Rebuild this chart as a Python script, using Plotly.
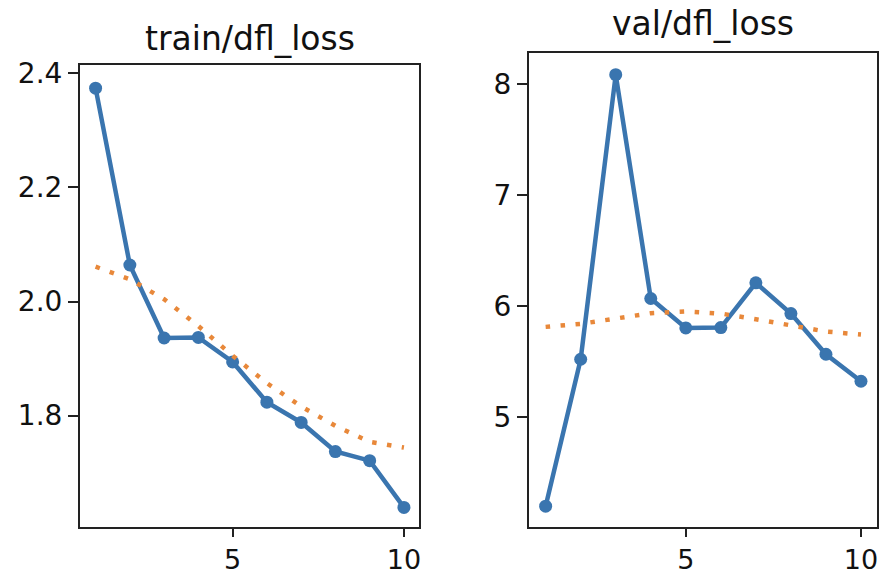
import plotly.graph_objects as go

epochs = [1, 2, 3, 4, 5, 6, 7, 8, 9, 10]
train_dfl = [2.374, 2.064, 1.936, 1.937, 1.894, 1.8235, 1.788, 1.737, 1.721, 1.639]
train_smooth = [2.061, 2.039, 2.004, 1.957, 1.905, 1.857, 1.816, 1.782, 1.754, 1.744]
val_dfl = [4.202, 5.523, 8.081, 6.069, 5.805, 5.808, 6.21, 5.934, 5.568, 5.325]
val_smooth = [5.814, 5.841, 5.889, 5.937, 5.952, 5.934, 5.883, 5.826, 5.772, 5.745]
titles = ["train/dfl_loss", "val/dfl_loss"]

BLUE = "#3a75af"
ORANGE = "#e8883a"
W, H = 883, 573
FONT = "DejaVu Sans"

fig = go.Figure()

for i, (y, ys) in enumerate([(train_dfl, train_smooth), (val_dfl, val_smooth)]):
    xa = "x" if i == 0 else "x2"
    ya = "y" if i == 0 else "y2"
    fig.add_trace(go.Scatter(x=epochs, y=y, mode="lines+markers", xaxis=xa, yaxis=ya,
                             line=dict(color=BLUE, width=4.5),
                             marker=dict(color=BLUE, size=13), showlegend=False))
    fig.add_trace(go.Scatter(x=epochs, y=ys, mode="lines", xaxis=xa, yaxis=ya,
                             line=dict(color=ORANGE, width=4.5, dash="4.5px,10.5px"),
                             showlegend=False))

def px_x(a, b):
    return [a / W, b / W]

def px_y(top, bottom):
    return [(H - bottom) / H, (H - top) / H]

axis_common = dict(showline=True, mirror=True, linecolor="#222", linewidth=2,
                   ticks="outside", tickwidth=2, tickcolor="#222",
                   showgrid=False, zeroline=False, automargin=False)
xfont = dict(family=FONT, size=27, color="#111")
yfont = dict(family=FONT, size=28, color="#111")

fig.update_layout(
    template="none",
    width=W, height=H,
    margin=dict(l=0, r=0, t=0, b=0, pad=0),
    paper_bgcolor="white", plot_bgcolor="white",
    xaxis=dict(domain=px_x(80, 419), range=[0.545, 10.44], tick0=0, dtick=5,
               anchor="y", ticklen=8, tickfont=xfont, **axis_common),
    yaxis=dict(domain=px_y(65, 527), range=[1.6047, 2.4146], tick0=0, dtick=0.2,
               tickformat=".1f", anchor="x", ticklen=10, tickfont=yfont, **axis_common),
    xaxis2=dict(domain=px_x(529, 877), range=[0.525, 10.457], tick0=0, dtick=5,
                anchor="y2", ticklen=8, tickfont=xfont, **axis_common),
    yaxis2=dict(domain=px_y(53, 527), range=[4.015, 8.276], tick0=0, dtick=1,
                anchor="x2", ticklen=10, tickfont=yfont, **axis_common),
    annotations=[
        dict(text=titles[0], xref="paper", yref="paper", x=(80 + 419) / 2 / W,
             y=(H - 38.6) / H, xanchor="center", yanchor="middle", showarrow=False,
             font=dict(family=FONT, size=33, color="#111")),
        dict(text=titles[1], xref="paper", yref="paper", x=(529 + 877) / 2 / W,
             y=(H - 23.6) / H, xanchor="center", yanchor="middle", showarrow=False,
             font=dict(family=FONT, size=33, color="#111")),
    ],
)

fig.write_html(
    "out.html",
    config={"displayModeBar": False, "staticPlot": True},
    post_script="document.body.style.margin='0';document.body.style.overflow='hidden';",
)
